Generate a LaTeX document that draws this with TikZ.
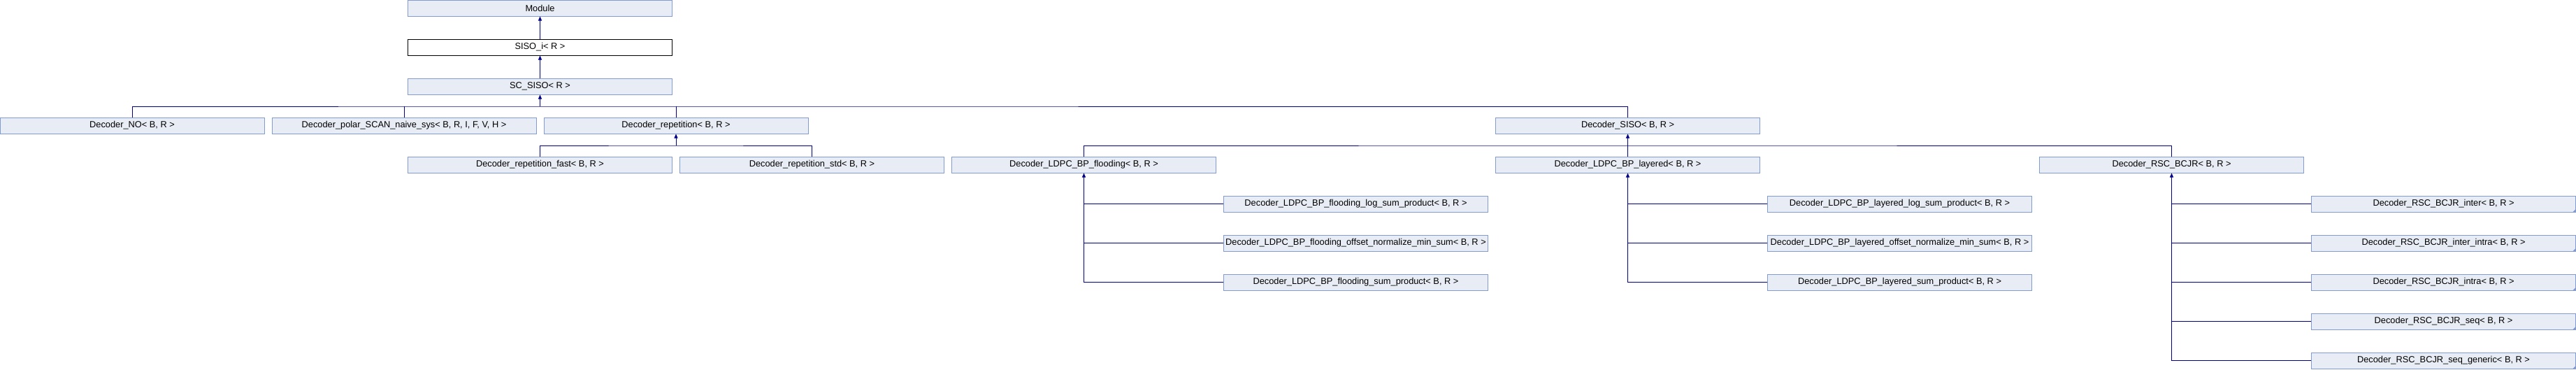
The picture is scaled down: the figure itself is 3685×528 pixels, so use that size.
\documentclass[tikz,border=0pt]{standalone}
\usepackage{fontspec}
\setmainfont{Liberation Sans}
\usepackage{xcolor}
\usetikzlibrary{arrows.meta}
\definecolor{boxfill}{RGB}{232,236,244}
\definecolor{boxline}{RGB}{132,155,208}
\definecolor{edgeblue}{RGB}{0,0,136}

\begin{document}
\begin{tikzpicture}[x=1pt, y=-1pt,
  cls/.style={draw=boxline, fill=boxfill, line width=1pt, minimum width=378pt,
    minimum height=23pt, inner sep=0pt, font=\fontsize{12.8}{15}\selectfont},
  undoc/.style={cls, draw=black, fill=white},
  edge/.style={draw=edgeblue, line width=1pt},
  inherit/.style={edge, -{Triangle[length=6pt,width=5pt]}}]
  \useasboundingbox (0,0) rectangle (3685,528);
  % Top chain
  \node[cls] (module) at (772.5,11.5) {Module};
  \node[undoc] (sisoi) at (772.5,67.5) {SISO\_i< R >};
  \node[cls] (scsiso) at (772.5,123.5) {SC\_SISO< R >};
  \draw[inherit] (sisoi) -- (module);
  \draw[inherit] (scsiso) -- (sisoi);
  % Children of SC_SISO
  \node[cls] (dno) at (189,179.5) {Decoder\_NO< B, R >};
  \node[cls] (polar) at (578,179.5) {Decoder\_polar\_SCAN\_naive\_sys< B, R, I, F, V, H >};
  \node[cls] (drep) at (967,179.5) {Decoder\_repetition< B, R >};
  \node[cls] (dsiso) at (2328.5,179.5) {Decoder\_SISO< B, R >};
  \coordinate (busA) at (772.5,152);
  \draw[edge] (dno.north) |- (busA) -| (dsiso.north);
  \draw[edge] (polar.north) -- (polar.north |- busA);
  \draw[edge] (drep.north) -- (drep.north |- busA);
  \draw[inherit] (busA) -- (scsiso.south);
  % Children of Decoder_repetition
  \node[cls] (repfast) at (772.5,235.5) {Decoder\_repetition\_fast< B, R >};
  \node[cls] (repstd) at (1161.5,235.5) {Decoder\_repetition\_std< B, R >};
  \coordinate (busB) at (967,208);
  \draw[edge] (repfast.north) |- (busB) -| (repstd.north);
  \draw[inherit] (busB) -- (drep.south);
  % Children of Decoder_SISO
  \node[cls] (flood) at (1550.5,235.5) {Decoder\_LDPC\_BP\_flooding< B, R >};
  \node[cls] (layered) at (2328.5,235.5) {Decoder\_LDPC\_BP\_layered< B, R >};
  \node[cls] (rsc) at (3106.5,235.5) {Decoder\_RSC\_BCJR< B, R >};
  \coordinate (busC) at (2328.5,208);
  \draw[edge] (flood.north) |- (busC) -| (rsc.north);
  \draw[edge] (layered.north) -- (busC);
  \draw[inherit] (busC) -- (dsiso.south);
  % Flooding variants
  \foreach \s [count=\i] in {log\_sum\_product, offset\_normalize\_min\_sum, sum\_product} {
    \node[cls] (fl\i) at (1939.5,235.5+56*\i) {Decoder\_LDPC\_BP\_flooding\_\s< B, R >};
    \draw[edge] (fl\i.west) -- (flood.south |- fl\i.west);
  }
  \draw[inherit] (flood.south |- fl3.west) -- (flood.south);
  % Layered variants
  \foreach \s [count=\i] in {log\_sum\_product, offset\_normalize\_min\_sum, sum\_product} {
    \node[cls] (la\i) at (2717.5,235.5+56*\i) {Decoder\_LDPC\_BP\_layered\_\s< B, R >};
    \draw[edge] (la\i.west) -- (layered.south |- la\i.west);
  }
  \draw[inherit] (layered.south |- la3.west) -- (layered.south);
  % BCJR variants (truncated boxes)
  \foreach \s [count=\i] in {inter, inter\_intra, intra, seq, seq\_generic} {
    \node[cls] (bc\i) at (3495.5,235.5+56*\i) {Decoder\_RSC\_BCJR\_\s< B, R >};
    \fill[boxline] (bc\i.south east) -- ++(-5,0) -- ++(5,-5) -- cycle;
    \draw[edge] (bc\i.west) -- (rsc.south |- bc\i.west);
  }
  \draw[inherit] (rsc.south |- bc5.west) -- (rsc.south);
\end{tikzpicture}
\end{document}
